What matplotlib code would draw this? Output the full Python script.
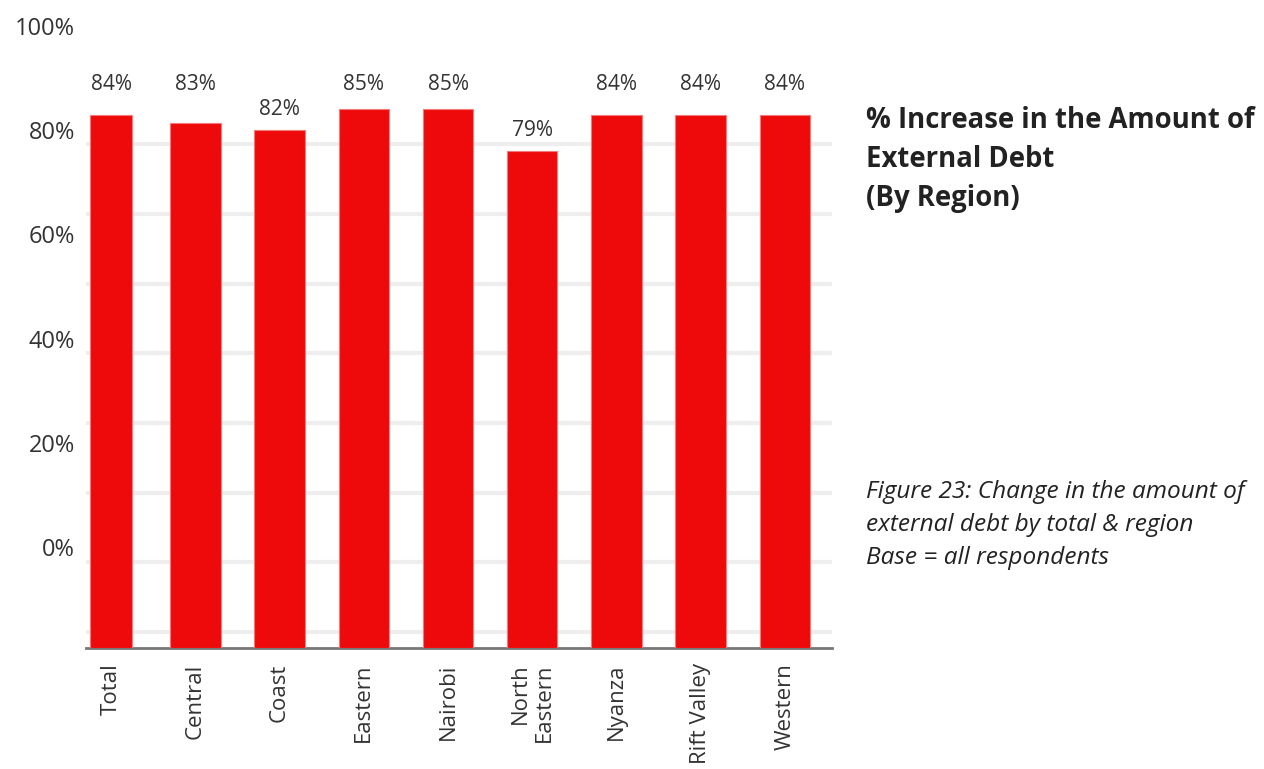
import numpy as np
import matplotlib
matplotlib.use("Agg")
import matplotlib.pyplot as plt

regions = ["Total", "Central", "Coast", "Eastern", "Nairobi",
           "North\nEastern", "Nyanza", "Rift Valley", "Western"]
# bar heights as drawn (the printed labels are rounded)
heights = [84.0, 82.7, 81.6, 84.9, 84.9, 78.3, 84.0, 84.0, 84.0]
value_labels = ["84%", "83%", "82%", "85%", "85%", "79%", "84%", "84%", "84%"]
ytick_labels = ["0%", "20%", "40%", "60%", "80%", "100%"]

title = "% Increase in the Amount of\nExternal Debt\n(By Region)"
caption = ("Figure 23: Change in the amount of\n"
           "external debt by total & region\n"
           "Base = all respondents")

RED = "#ee0a0a"
TEXT = "#333333"

plt.rcParams["font.family"] = ["Open Sans", "DejaVu Sans"]

fig = plt.figure(figsize=(12.64, 7.69), dpi=100)
ax = fig.add_axes([0.068, 0.1573, 0.5902, 0.8251])

x = np.arange(len(regions))
widths = [0.5] + [0.6] * (len(regions) - 1)
ax.bar(x, heights, width=widths, color=RED, edgecolor="#f47a7a",
       linewidth=0.8, zorder=3)

# labels sit in a common band above the taller bars, just above the lower ones
for xi, v, lab in zip(x, heights, value_labels):
    y = 88.8 if v >= 82.5 else v + 3.3
    ax.text(xi, y, lab, ha="center", va="center", fontsize=15, color=TEXT)

ax.set_xlim(-0.30, 8.56)
ax.set_ylim(0, 100)

ax.set_xticks(x)
ax.set_xticklabels(regions, rotation=90, fontsize=16, color=TEXT,
                   va="top", ha="center", multialignment="right")
ax.tick_params(axis="x", length=0, pad=11)

# the y labels in the source are offset from the gridlines; keep that look
ax.set_yticks(np.linspace(15.9, 98.1, 6))
ax.set_yticklabels(ytick_labels, fontsize=17, color=TEXT)
ax.tick_params(axis="y", length=0, pad=8)
ax.set_yticks(np.linspace(2.5, 79.4, 8), minor=True)
ax.tick_params(axis="y", which="minor", length=0)
ax.grid(axis="y", which="minor", color="#eeeeee", linewidth=3, zorder=0)

for s in ("left", "right", "top"):
    ax.spines[s].set_visible(False)
ax.spines["bottom"].set_color("#777777")
ax.spines["bottom"].set_linewidth(2)

fig.text(0.685, 1 - 106 / 769, title, ha="left", va="top", fontsize=19.8,
         fontweight="bold", color="#222222", linespacing=1.46)
fig.text(0.685, 1 - 480 / 769, caption, ha="left", va="top", fontsize=17.6,
         style="italic", color="#222222", linespacing=1.49)

fig.savefig("out.png", dpi=100)
plt.close(fig)
